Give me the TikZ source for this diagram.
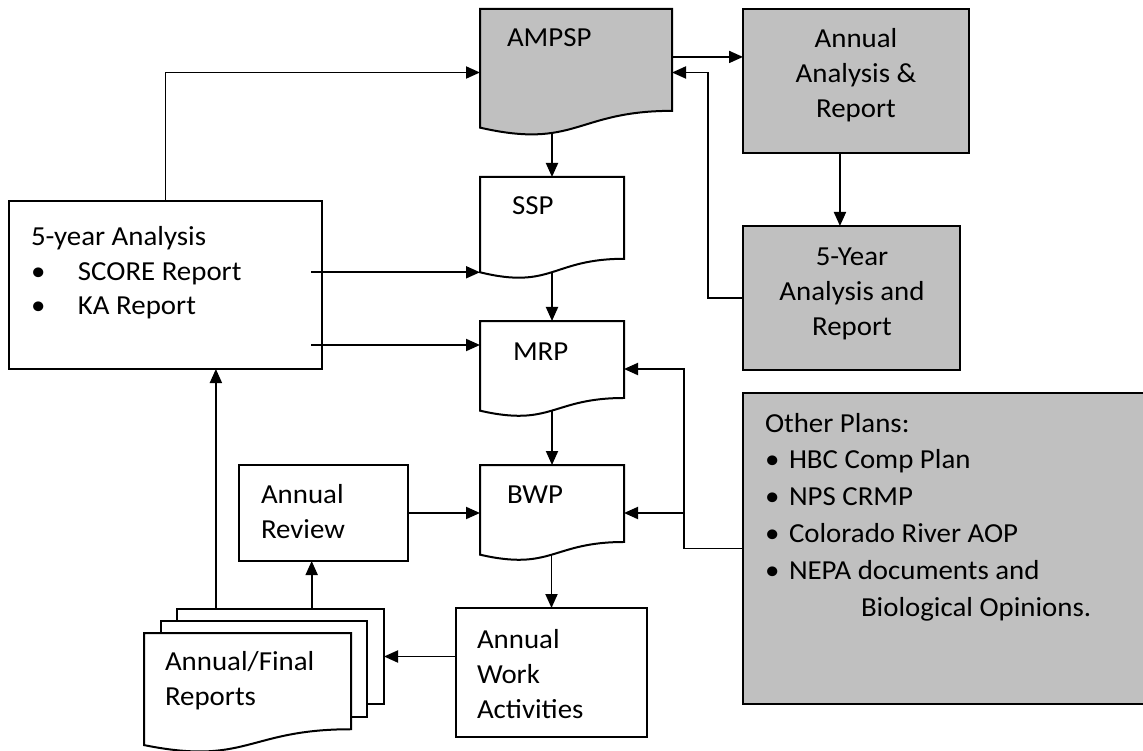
\documentclass[tikz,border=0pt]{standalone}
\usepackage{fontspec}
\setmainfont{Carlito}[FakeStretch=1.05]
\usetikzlibrary{arrows.meta,calc}
\definecolor{shade}{HTML}{C0C0C0}
\newcommand\docoutline[2]{%
  \path[draw=black, line width=2pt, fill=#2]
   (#1.north west) -- (#1.north east) -- ($(#1.north east)!0.802!(#1.south east)$)
   .. controls ($(#1.north)!0.802!(#1.south)$) and ($(#1.north)!1.1075!(#1.south)$) ..
   ($(#1.north west)!0.934!(#1.south west)$) -- cycle;}
\begin{document}
\begin{tikzpicture}[x=1pt,y=-1pt,
  frame/.style={rectangle, inner sep=0pt, outer sep=0pt, anchor=north west},
  box/.style={frame, draw=black, line width=2pt},
  graybox/.style={box, fill=shade},
  arr/.style={line width=1.9pt, -{Triangle[length=14pt,width=12pt]}},
  txt/.style={inner sep=0pt, outer sep=0pt, anchor=base west, align=left,
    font=\fontsize{27.5}{35}\selectfont},
  ctxt/.style={inner sep=0pt, outer sep=0pt, anchor=base, align=center,
    font=\fontsize{27.5}{35}\selectfont}]
\useasboundingbox (0,0) rectangle (1143,751);

% ---- shape frames ----
\node[frame, minimum width=192pt, minimum height=127pt] (ampsp) at (480,9) {};
\node[frame, minimum width=144pt, minimum height=102pt] (ssp) at (480,177) {};
\node[frame, minimum width=144pt, minimum height=96pt] (mrp) at (480,321) {};
\node[frame, minimum width=144pt, minimum height=96pt] (bwp) at (480,465) {};
\node[frame, minimum width=207pt, minimum height=95pt] (rep3) at (177,609) {};
\node[frame, minimum width=206pt, minimum height=96pt] (rep2) at (161,621) {};
\node[frame, minimum width=207pt, minimum height=120pt] (rep1) at (144,633) {};
\node[graybox, minimum width=226pt, minimum height=144pt] (aar) at (743,9) {};
\node[graybox, minimum width=217pt, minimum height=144pt] (fyar) at (743,226) {};
\node[graybox, minimum width=404pt, minimum height=311pt] (other) at (743,393) {};
\node[box, minimum width=313pt, minimum height=168pt] (fy) at (9,201) {};
\node[box, minimum width=169pt, minimum height=96pt] (ar) at (239,465) {};
\node[box, minimum width=191pt, minimum height=129pt] (awa) at (456,608) {};

% ---- helper coordinates ----
\coordinate (ampsp-lb) at ($(ampsp.north west)!0.934!(ampsp.south west)$);
\coordinate (ssp-lb) at ($(ssp.north west)!0.934!(ssp.south west)$);
\coordinate (mrp-lb) at ($(mrp.north west)!0.934!(mrp.south west)$);
\coordinate (bwp-lb) at ($(bwp.north west)!0.934!(bwp.south west)$);
\coordinate (fyin) at ($(fy.east)+(-11,0)$);
\coordinate (mrp-in) at ($(mrp.north west)!0.25!(mrp.south west)$);
\coordinate (aarin) at ($(aar.north west)!0.333!(aar.south west)$);
\coordinate (arx) at ($(ar.south west)!0.43!(ar.south east)$);
\coordinate (fyx) at ($(fy.south west)!0.661!(fy.south east)$);
\coordinate (vx) at ($(aar.south west)!0.429!(aar.south east)$);
\coordinate (j1) at ($(fyar.west)+(-35,0)$);
\coordinate (j2) at ($(other.west)+(-59,0)$);

% ---- connectors ----
\draw[arr] (fy.north) |- (ampsp.west);
\draw[arr] (fyin |- ssp-lb) -- (ssp-lb);
\draw[arr] (fyin |- mrp-in) -- (mrp-in);
\draw[arr] (ssp.north |- ampsp-lb) -- (ssp.north);
\draw[arr] (mrp.north |- ssp-lb) -- (mrp.north);
\draw[arr] (bwp.north |- mrp-lb) -- (bwp.north);
\draw[arr] (awa.north |- bwp-lb) -- (awa.north);
\draw[arr] (awa.west |- rep3.east) -- (rep3.east);
\draw[arr] (arx |- rep3.north) -- (arx);
\draw[arr] (fyx |- rep3.north) -- (fyx);
\draw[arr] (ar.east) -- (bwp.west);
\draw[arr] (ampsp.east |- aarin) -- (aarin);
\draw[arr] (fyar.west) -- (j1) |- (ampsp.east);
\draw[arr] (vx) -- (vx |- fyar.north);
\draw[arr] (other.west) -- (j2) |- (mrp.east);
\draw[arr] (j2 |- bwp.east) -- (bwp.east);

% ---- document shapes ----
\docoutline{ampsp}{shade}
\docoutline{ssp}{white}
\docoutline{mrp}{white}
\docoutline{bwp}{white}
\draw[line width=2pt, fill=white] (rep3.north west) rectangle (rep3.south east);
\draw[line width=2pt, fill=white] (rep2.north west) rectangle (rep2.south east);
\docoutline{rep1}{white}

% ---- texts (multi-line nodes are placed at their last baseline) ----
\node[txt] (ampsp-t) at (507,47) {AMPSP};
\node[txt] (ssp-t) at (512,215) {SSP};
\node[txt] (mrp-t) at (513,360) {MRP};
\node[txt] (bwp-t) at (507,503) {BWP};
\node[ctxt] (aar-t) at (856,118) {Annual\\Analysis \&\\Report};
\node[ctxt] (fyar-t) at (852,335) {5-Year\\Analysis and\\Report};
\node[txt] (fy-t) at (31,315) {5-year Analysis\\\makebox[47pt][l]{•}SCORE Report\\\makebox[47pt][l]{•}KA Report};
\node[txt] (ar-t) at (261,538) {Annual\\Review};
\node[txt] (awa-t) at (477,718) {Annual\\Work\\Activities};
\node[txt] (rep-t) at (165,705) {Annual/Final\\Reports};
\node[txt, font=\fontsize{27.5}{36.8}\selectfont] (other-t) at (765,616)
  {Other Plans:\\\makebox[24pt][l]{•}HBC Comp Plan\\\makebox[24pt][l]{•}NPS CRMP\\\makebox[24pt][l]{•}Colorado River AOP\\\makebox[24pt][l]{•}NEPA documents and\\\hspace*{96pt}Biological Opinions.};
\end{tikzpicture}
\end{document}
